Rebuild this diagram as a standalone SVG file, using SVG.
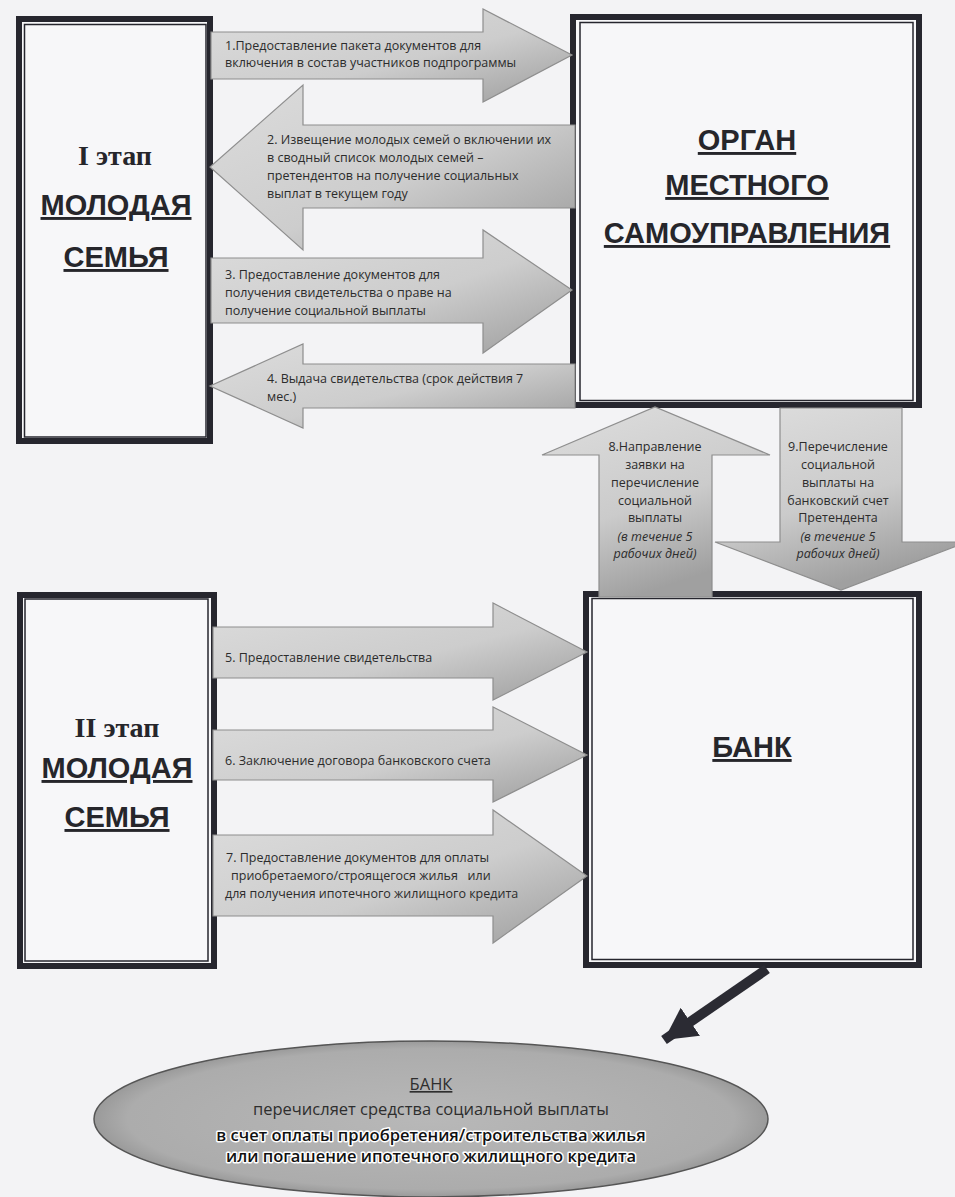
<svg xmlns="http://www.w3.org/2000/svg" width="955" height="1197" viewBox="0 0 955 1197">
<defs>
<linearGradient id="gH" x1="0" y1="0" x2="1" y2="1">
<stop offset="0" stop-color="#dcdcdc"/>
<stop offset="0.55" stop-color="#cdcdcd"/>
<stop offset="1" stop-color="#9c9c9c"/>
</linearGradient>
<linearGradient id="gV" x1="0" y1="0" x2="0.4" y2="1">
<stop offset="0" stop-color="#dedede"/>
<stop offset="0.6" stop-color="#cbcbcb"/>
<stop offset="1" stop-color="#a0a0a0"/>
</linearGradient>
<radialGradient id="gE" cx="0.5" cy="0.5" r="0.5">
<stop offset="0" stop-color="#b8b8b8"/>
<stop offset="0.9" stop-color="#acacac"/>
<stop offset="1" stop-color="#9a9a9a"/>
</radialGradient>
<marker id="thick" markerUnits="userSpaceOnUse" markerWidth="40" markerHeight="40" refX="32" refY="17" orient="auto">
<path d="M0,0 L32,17 L0,34 Z" fill="#2b2b33"/>
</marker>
<style>
.bg{fill:#f3f3f5}
.boxfill{fill:#f7f7f9}
.outer{fill:none;stroke:#26262e;stroke-width:6}
.inner{fill:none;stroke:#26262e;stroke-width:1.5}
.head{font-family:"Liberation Sans",Arial,sans-serif;font-weight:bold;font-size:29px;fill:#26262b;text-anchor:middle;text-decoration:underline}
.stage{font-family:"Liberation Serif","Times New Roman",serif;font-weight:bold;font-size:28px;fill:#26262b;text-anchor:middle}
.arrH{fill:url(#gH);stroke:#8e8e8e;stroke-width:1.2}
.arrV{fill:url(#gV);stroke:#8e8e8e;stroke-width:1.2}
.lbl{font-family:"Open Sans","Noto Sans",sans-serif;font-size:12.5px;fill:#2c2c2c}
.lblc{font-family:"Open Sans","Noto Sans",sans-serif;font-size:12.5px;fill:#2c2c2c;text-anchor:middle}
.it{font-style:italic}
.ell{font-family:"Open Sans","Noto Sans",sans-serif;font-size:16.5px;fill:#2e2e2e;text-anchor:middle}
.hl{font-weight:600;fill:#111;stroke:#ffffff;stroke-width:3;paint-order:stroke;stroke-linejoin:round}
</style>
</defs>
<rect class="bg" x="0" y="0" width="955" height="1197"/>

<g id="young-family-1">
<rect class="boxfill" x="19" y="19" width="191" height="422"/>
<rect class="outer" x="19" y="19" width="191" height="422"/>
<rect class="inner" x="24.5" y="24.5" width="181.5" height="412.5"/>
<text class="stage" x="115" y="165">I этап</text>
<text class="head" x="116" y="215">МОЛОДАЯ</text>
<text class="head" x="116" y="267">СЕМЬЯ</text>
</g>

<g id="local-government">
<rect class="boxfill" x="573" y="17" width="346" height="388"/>
<rect class="outer" x="573" y="17" width="346" height="388"/>
<rect class="inner" x="580" y="22.5" width="333" height="378"/>
<text class="head" x="747" y="150">ОРГАН</text>
<text class="head" x="747" y="195">МЕСТНОГО</text>
<text class="head" x="747" y="243">САМОУПРАВЛЕНИЯ</text>
</g>

<g id="young-family-2">
<rect class="boxfill" x="20" y="595" width="194" height="371"/>
<rect class="outer" x="20" y="595" width="194" height="371"/>
<rect class="inner" x="25" y="599" width="183" height="362"/>
<text class="stage" x="117" y="737">II этап</text>
<text class="head" x="117" y="778">МОЛОДАЯ</text>
<text class="head" x="117" y="827">СЕМЬЯ</text>
</g>

<g id="bank">
<rect class="boxfill" x="586" y="594" width="333" height="371"/>
<rect class="outer" x="586" y="594" width="333" height="371"/>
<rect class="inner" x="592" y="598.5" width="321" height="361"/>
<text class="head" x="752" y="757">БАНК</text>
</g>

<g id="bank-transfer">
<ellipse cx="431" cy="1119" rx="337" ry="78" fill="url(#gE)" stroke="#555555" stroke-width="1.5"/>
<text class="ell" x="431" y="1090" text-decoration="underline">БАНК</text>
<text class="ell" x="431" y="1115">перечисляет средства социальной выплаты</text>
<text class="ell hl" x="431" y="1141">в счет оплаты приобретения/строительства жилья</text>
<text class="ell hl" x="431" y="1162">или погашение ипотечного жилищного кредита</text>
</g>

<g id="connectors">
<g id="a1">
<polygon class="arrH" points="211,32 483,32 483,9 572,55 483,102 483,79 211,79"/>
<text class="lbl" x="225" y="50">1.Предоставление пакета документов для</text>
<text class="lbl" x="225" y="67">включения в состав участников подпрограммы</text>
</g>
<g id="a2">
<polygon class="arrH" points="575,125 303,125 303,85 210,167 303,250 303,208 575,208"/>
<text class="lbl" x="267" y="144">2. Извещение молодых семей о включении их</text>
<text class="lbl" x="267" y="162">в сводный список молодых семей –</text>
<text class="lbl" x="267" y="180">претендентов на получение социальных</text>
<text class="lbl" x="267" y="198">выплат в текущем году</text>
</g>
<g id="a3">
<polygon class="arrH" points="211,258 483,258 483,230 572,290 483,353 483,323 211,323"/>
<text class="lbl" x="225" y="279">3. Предоставление документов для</text>
<text class="lbl" x="225" y="297">получения свидетельства о праве на</text>
<text class="lbl" x="225" y="315">получение социальной выплаты</text>
</g>
<g id="a4">
<polygon class="arrH" points="575,364 303,364 303,344 210,386 303,428 303,408 575,408"/>
<text class="lbl" x="267" y="383">4. Выдача свидетельства (срок действия 7</text>
<text class="lbl" x="267" y="401">мес.)</text>
</g>
<g id="a5">
<polygon class="arrH" points="213,627 493,627 493,603 587,652 493,700 493,678 213,678"/>
<text class="lbl" x="225" y="662">5. Предоставление свидетельства</text>
</g>
<g id="a6">
<polygon class="arrH" points="213,730 493,730 493,707 587,755 493,802 493,780 213,780"/>
<text class="lbl" x="225" y="765">6. Заключение договора банковского счета</text>
</g>
<g id="a7">
<polygon class="arrH" points="213,835 493,835 493,810 587,876 493,943 493,916 213,916"/>
<text class="lbl" x="226" y="862">7. Предоставление документов для оплаты</text>
<text class="lbl" x="231" y="880" xml:space="preserve">приобретаемого/строящегося жилья   или</text>
<text class="lbl" x="225" y="898">для получения ипотечного жилищного кредита</text>
</g>
<g id="a8">
<polygon class="arrV" points="599,597 599,455 542,455 655,407 770,455 712,455 712,597"/>
<text class="lblc" x="655" y="451">8.Направление</text>
<text class="lblc" x="655" y="469">заявки на</text>
<text class="lblc" x="655" y="487">перечисление</text>
<text class="lblc" x="655" y="505">социальной</text>
<text class="lblc" x="655" y="522">выплаты</text>
<text class="lblc it" x="655" y="541">(в течение 5</text>
<text class="lblc it" x="655" y="558">рабочих дней)</text>
</g>
<g id="a9">
<polygon class="arrV" points="780,408 902,408 902,542 967,542 841,590 715,542 780,542"/>
<text class="lblc" x="838" y="451">9.Перечисление</text>
<text class="lblc" x="838" y="469">социальной</text>
<text class="lblc" x="838" y="487">выплаты на</text>
<text class="lblc" x="838" y="505">банковский счет</text>
<text class="lblc" x="838" y="522">Претендента</text>
<text class="lblc it" x="838" y="541">(в течение 5</text>
<text class="lblc it" x="838" y="558">рабочих дней)</text>
</g>
<path id="a10" d="M767,969 L664,1040" stroke="#2b2b33" stroke-width="10" fill="none" marker-end="url(#thick)"/>
</g>
</svg>
